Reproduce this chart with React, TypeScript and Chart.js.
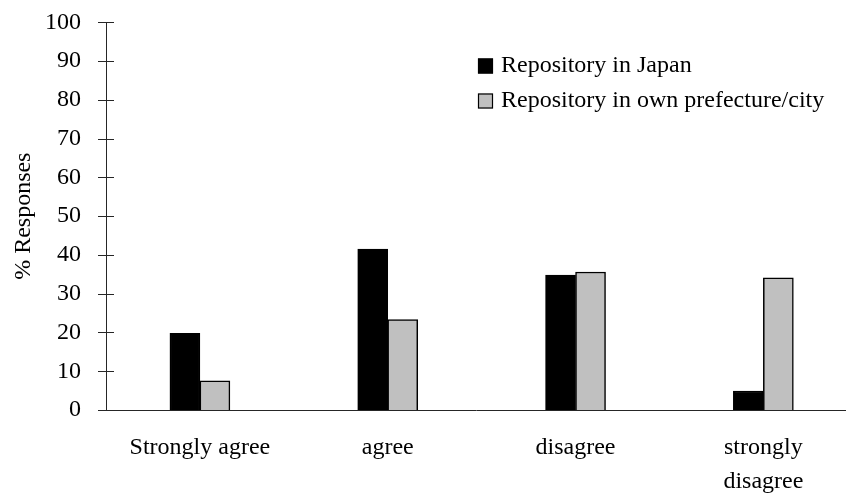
import React, { useEffect, useRef } from "react";
import { Chart, registerables } from "chart.js";

Chart.register(...registerables);

const categories: (string | string[])[] = ["Strongly agree", "agree", "disagree", ["strongly", "disagree"]];
const seriesNames = ["Repository in Japan", "Repository in own prefecture/city"];
const japanValues = [19.8, 41.5, 34.8, 4.9];
const ownPrefectureValues = [7.5, 23.3, 35.6, 34.1];
const yMin = 0;
const yMax = 100;
const yStep = 10;
const yTitle = "% Responses";

const FONT = "'Liberation Serif', 'Times New Roman', serif";
const AXIS_COLOR = "#262626";

const crossTicks = {
  id: "crossTicks",
  afterDraw(chart: any) {
    const y = chart.scales.y;
    const ctx = chart.ctx;
    const left = chart.chartArea.left;
    ctx.save();
    ctx.strokeStyle = AXIS_COLOR;
    ctx.lineWidth = 1;
    y.ticks.forEach((t: any) => {
      const py = Math.round(y.getPixelForValue(t.value)) + 0.5;
      ctx.beginPath();
      ctx.moveTo(left - 8, py);
      ctx.lineTo(left + 8, py);
      ctx.stroke();
    });
    ctx.restore();
  },
};

const boxLegend = {
  id: "boxLegend",
  afterDraw(chart: any) {
    const ctx = chart.ctx;
    const boxX = 478;
    const textX = 501;
    const rows = [66, 101];
    const size = 15;
    ctx.save();
    ctx.font = `24px ${FONT}`;
    ctx.textBaseline = "middle";
    ctx.textAlign = "left";
    chart.data.datasets.forEach((ds: any, i: number) => {
      const cy = rows[i];
      ctx.fillStyle = ds.backgroundColor;
      ctx.fillRect(boxX, cy - size / 2, size, size);
      ctx.strokeStyle = "#000";
      ctx.lineWidth = 1.2;
      ctx.strokeRect(boxX + 0.5, cy - size / 2 + 0.5, size - 1, size - 1);
      ctx.fillStyle = "#000";
      ctx.fillText(ds.label, textX, cy);
    });
    ctx.restore();
  },
};

export default function App() {
  const ref = useRef<HTMLCanvasElement | null>(null);
  useEffect(() => {
    if (!ref.current) return;
    const chart = new Chart(ref.current, {
      type: "bar",
      data: {
        datasets: [
          {
            label: seriesNames[0],
            data: japanValues.map((v, i) => ({ x: i, y: v })),
            backgroundColor: "#000000",
            borderColor: "#000000",
            borderWidth: 1.5,
            barThickness: 30,
          },
          {
            label: seriesNames[1],
            data: ownPrefectureValues.map((v, i) => ({ x: i, y: v })),
            backgroundColor: "#c0c0c0",
            borderColor: "#000000",
            borderWidth: 1.5,
            barThickness: 30,
          },
        ],
      },
      options: {
        animation: false,
        responsive: false,
        layout: { padding: 0 },
        plugins: { legend: { display: false }, tooltip: { enabled: false } },
        scales: {
          x: {
            type: "linear",
            offset: false,
            min: -0.5,
            max: 3.44,
            afterBuildTicks: (scale: any) => {
              scale.ticks = categories.map((_, i) => ({ value: i }));
            },
            afterFit: (scale: any) => {
              scale.height = 86;
            },
            grid: { display: false, drawTicks: false, tickLength: 0 },
            border: { display: true, color: AXIS_COLOR, width: 1 },
            ticks: {
              autoSkip: false,
              maxRotation: 0,
              padding: 21,
              color: "#000",
              font: { family: FONT, size: 24, lineHeight: 1.4 },
              callback: (v: any) => categories[v as number] ?? "",
            },
          },
          y: {
            min: yMin,
            max: yMax,
            afterFit: (scale: any) => {
              scale.width = 106;
            },
            grid: { display: false, drawTicks: true, tickLength: 17 },
            border: { display: true, color: AXIS_COLOR, width: 1 },
            ticks: {
              stepSize: yStep,
              padding: 8,
              color: "#000",
              font: { family: FONT, size: 24 },
            },
            title: {
              display: true,
              text: yTitle,
              color: "#000",
              padding: { top: 9, bottom: 0 },
              font: { family: FONT, size: 24 },
            },
          },
        },
      },
      plugins: [crossTicks, boxLegend],
    });
    return () => chart.destroy();
  }, []);
  return (
    <div style={{ position: "fixed", left: 0, top: 0, width: 846, height: 496, background: "#fff" }}>
      <canvas ref={ref} width={846} height={496} />
    </div>
  );
}
